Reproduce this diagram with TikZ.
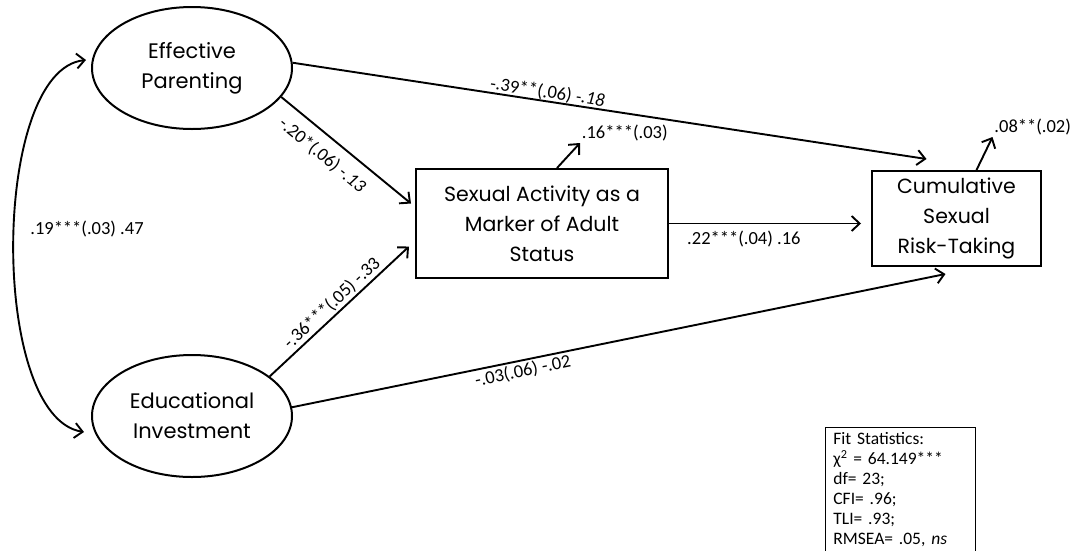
\documentclass[tikz,border=0pt]{standalone}
\usepackage{fontspec}
\setmainfont{Carlito}
\newfontfamily\gothic{Poppins}
\usetikzlibrary{shapes.geometric,arrows.meta,positioning}
\tikzset{
  latent/.style={ellipse,draw,line width=2pt,minimum width=200pt,minimum height=122pt,
    inner sep=0pt,align=center,font=\gothic\fontsize{21}{30}\selectfont},
  observed/.style={rectangle,draw,line width=2pt,inner sep=0pt,align=center,
    font=\gothic\fontsize{20.5}{30}\selectfont},
  regline/.style={->,line width=1.9pt},
  coef/.style={font=\fontsize{18.5}{22}\selectfont,inner sep=2pt},
}
\begin{document}
\begin{tikzpicture}[x=1pt,y=-1pt,>={Straight Barb[length=8pt,width=15pt]}]
    \useasboundingbox (0,0) rectangle (1076,550);
    % 潜变量与观测变量
    \node[latent] (ep) at (192,68) {Effective\\Parenting};
    \node[latent] (ei) at (192,416) {Educational\\Investment};
    \node[observed,minimum width=252pt,minimum height=109pt] (sa) at (542,223.5)
        {Sexual Activity as a\\Marker of Adult\\Status};
    \node[observed,minimum width=169pt,minimum height=95pt] (csr) at (956.5,218.5)
        {Cumulative\\Sexual\\Risk-Taking};

    % 协方差
    \draw[regline,<->] ([shift={(-5pt,8pt)}]ep.west)
        .. controls +(-95pt,-10pt) and +(-95pt,15pt) .. ([shift={(-7pt,-16pt)}]ei.west);
    \node[coef] (covlab) at (87,229) {.19***(.03) .47};

    % 回归路径
    \draw[regline] (ep.3) -- ([shift={(-30pt,11pt)}]csr.north)
        node[coef,pos=.4,sloped,above,inner sep=0pt] {-.39**(.06) \textit{-.18}};
    \draw[regline] (ep.-18) -- ([shift={(-4pt,20pt)}]sa.west)
        node[coef,pos=.41,sloped,below=8pt] {-.20*(.06) \textit{-.13}};
    \draw[regline] (ei.27) -- ([shift={(-6pt,-23pt)}]sa.west)
        node[coef,midway,sloped,above] {-.36***(.05) -.33};
    \draw[regline] (ei.5) -- ([shift={(-11pt,-7pt)}]csr.south)
        node[coef,pos=.35,sloped,below] {-.03(.06) -.02};
    \draw[regline] (sa.east) -- ([xshift=-10pt]sa.east -| csr.west)
        node[coef,pos=.39,below=5pt] {.22***(.04) .16};

    % 残差
    \coordinate (sares) at ([shift={(38pt,25pt)}]sa.north);
    \coordinate (csrres) at ([shift={(36pt,33pt)}]csr.north);
    \draw[regline] ([xshift=15pt]sa.north) -- (sares)
        node[coef,anchor=south west,inner sep=1pt] {.16***(.03)};
    \draw[regline] ([xshift=20pt]csr.north) -- (csrres)
        node[coef,anchor=south west,inner sep=1pt] {.08**(.02)};

    % 拟合指标
    \node[draw,line width=0.8pt,anchor=north west,minimum width=150pt,minimum height=124pt,
        text width=134pt,inner xsep=8pt,align=left,font=\fontsize{17.5}{20}\selectfont] (fit)
        at (825,427) {Fit Statistics:\\
        χ\textsuperscript{2} = 64.149***\\
        df= 23;\\
        CFI= .96;\\
        TLI= .93;\\
        RMSEA= .05, \textit{ns}};
\end{tikzpicture}
\end{document}
